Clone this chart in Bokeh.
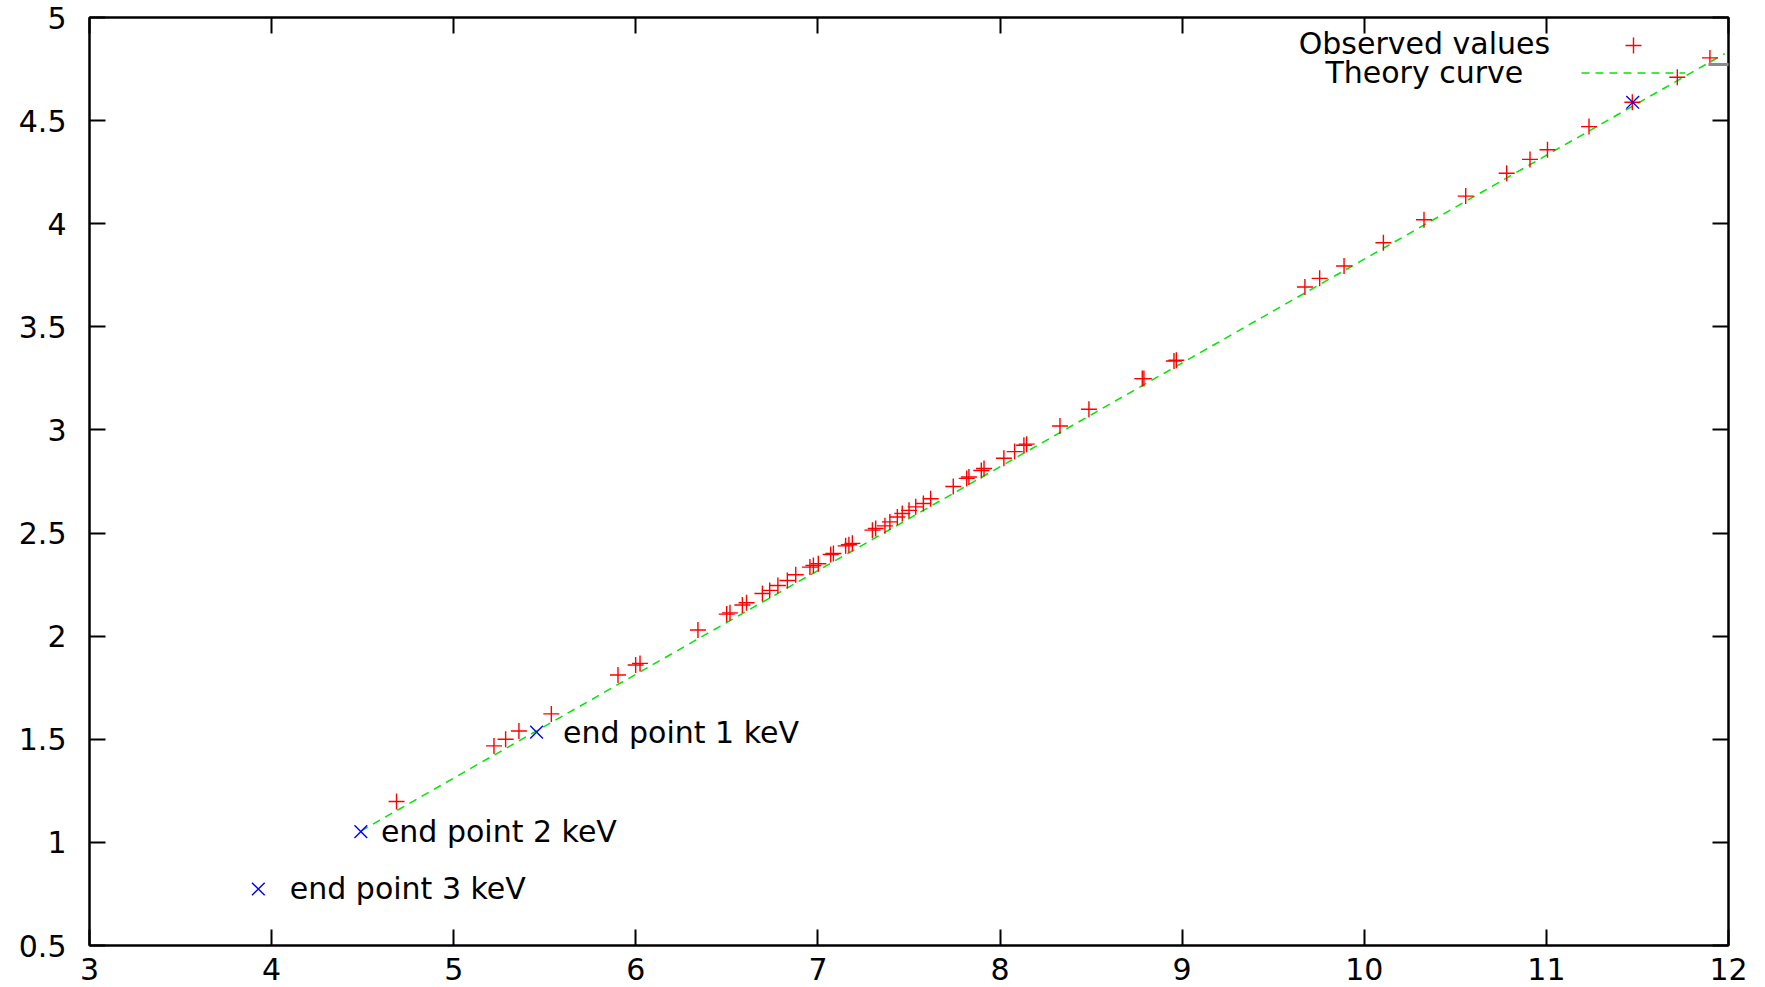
from bokeh.plotting import figure
from bokeh.models import (Range1d, FixedTicker, LinearAxis, CustomJSTickFormatter,
                          Legend, LegendItem, Label, BoxAnnotation)
from bokeh.embed import file_html
from bokeh.resources import INLINE
from bokeh.core.properties import value

# ---------------- data ----------------
obs_x = [4.686, 5.221, 5.285, 5.358, 5.536, 5.902, 5.999, 6.023, 6.341, 6.499,
         6.517, 6.585, 6.608, 6.695, 6.735, 6.780, 6.832, 6.878, 6.956, 6.975,
         7.002, 7.070, 7.085, 7.152, 7.170, 7.189, 7.299, 7.317, 7.368, 7.395,
         7.436, 7.463, 7.500, 7.537, 7.579, 7.619, 7.743, 7.817, 7.829, 7.897,
         7.912, 8.021, 8.080, 8.131, 8.146, 8.329, 8.488, 8.781, 8.790, 8.955,
         8.968, 9.674, 9.755, 9.889, 10.105, 10.328, 10.557, 10.782, 10.910, 11.006,
         11.234, 11.472, 11.719, 11.898]
obs_y = [1.198, 1.468, 1.500, 1.540, 1.623, 1.812, 1.860, 1.868, 2.030, 2.107,
         2.113, 2.151, 2.162, 2.207, 2.222, 2.246, 2.270, 2.298, 2.335, 2.343,
         2.351, 2.396, 2.401, 2.438, 2.443, 2.450, 2.514, 2.522, 2.535, 2.554,
         2.578, 2.595, 2.610, 2.627, 2.643, 2.666, 2.726, 2.765, 2.772, 2.803,
         2.813, 2.863, 2.895, 2.926, 2.931, 3.019, 3.100, 3.249, 3.249, 3.334,
         3.338, 3.693, 3.735, 3.795, 3.908, 4.019, 4.134, 4.245, 4.312, 4.359,
         4.471, 4.589, 4.710, 4.804]

theory_x = [4.49, 11.98]
theory_y = [1.055, 4.825]

end_x = [5.455, 4.490, 3.927, 11.474]
end_y = [1.535, 1.052, 0.774, 4.589]
end_labels = ["end point 1 keV", "end point 2 keV", "end point 3 keV"]
end_label_x = [5.60, 4.60, 4.10]

x_ticks = [3, 4, 5, 6, 7, 8, 9, 10, 11, 12]
y_ticks = [0.5, 1, 1.5, 2, 2.5, 3, 3.5, 4, 4.5, 5]
legend_labels = ["Observed values", "Theory curve"]

# ---------------- style ----------------
FONT = "DejaVu Sans"
FS = "30px"
RED = "#ff0000"
BLUE = "#0000ff"
GREEN = "#00e600"

p = figure(width=1760, height=985,
           x_range=Range1d(3, 12), y_range=Range1d(0.5, 5),
           output_backend="svg", toolbar_location=None,
           min_border_left=89, min_border_right=32,
           min_border_top=17, min_border_bottom=40)
p.xgrid.visible = False
p.ygrid.visible = False
p.outline_line_color = "black"
p.outline_line_width = 2
p.background_fill_color = "white"
p.border_fill_color = "white"

num_fmt = "return String(tick)"
empty_fmt = "return ''"


def style_axis(ax, ticks, show_labels, standoff):
    ax.ticker = FixedTicker(ticks=ticks)
    ax.axis_line_color = "black"
    ax.axis_line_width = 2
    ax.major_tick_line_color = "black"
    ax.major_tick_line_width = 2
    ax.major_tick_in = 16
    ax.major_tick_out = 0
    ax.minor_tick_line_color = None
    ax.major_label_text_font = FONT
    ax.major_label_text_color = "black"
    if show_labels:
        ax.formatter = CustomJSTickFormatter(code=num_fmt)
        ax.major_label_text_font_size = FS
        ax.major_label_standoff = standoff
    else:
        ax.formatter = CustomJSTickFormatter(code=empty_fmt)
        ax.major_label_text_font_size = "1px"
        ax.major_label_standoff = 0


style_axis(p.xaxis[0], x_ticks, True, 12)
style_axis(p.yaxis[0], y_ticks, True, 23)

top_ax = LinearAxis()
style_axis(top_ax, x_ticks, False, 0)
p.add_layout(top_ax, "above")
right_ax = LinearAxis()
style_axis(right_ax, y_ticks, False, 0)
p.add_layout(right_ax, "right")

# ---------------- glyphs ----------------
r_theory = p.line(theory_x, theory_y, line_color=GREEN, line_width=1.5,
                  line_dash="8 6")
r_obs = p.scatter(obs_x, obs_y, marker="cross", size=16, line_color=RED,
                  line_width=1.4)
r_end = p.scatter(end_x, end_y, marker="x", size=18, line_color=BLUE,
                  line_width=1.4)

p.text(x=end_label_x, y=end_y[:3], text=end_labels,
       text_font=value(FONT), text_font_size=value(FS),
       text_baseline="middle", text_align="left", text_color="black")

# grey stub sticking out past the right border (as in the original output)
p.add_layout(BoxAnnotation(left=11.89, right=12.3, bottom=4.765, top=4.779,
                           fill_color="#8a8a8a", fill_alpha=1.0,
                           line_color=None))

# ---------------- key (gnuplot style: text then sample) ----------------
common = dict(location="top_right", margin=8, padding=0, spacing=0,
              glyph_width=104, label_width=35, label_standoff=0,
              border_line_color=None, background_fill_alpha=0,
              label_text_font_size="1px")
leg_obs = Legend(items=[LegendItem(label=" ", renderers=[r_obs])],
                 glyph_height=40, **common)
leg_th = Legend(items=[LegendItem(label=" ", renderers=[r_theory])],
                glyph_height=95, **common)
p.add_layout(leg_obs)
p.add_layout(leg_th)

for txt, yy in zip(legend_labels, [4.872, 4.733]):
    p.add_layout(Label(x=10.33, y=yy, text=txt, text_align="center",
                       text_baseline="middle", text_font=FONT,
                       text_font_size=FS, text_color="black"))

open("out.html", "w").write(file_html(p, INLINE))
